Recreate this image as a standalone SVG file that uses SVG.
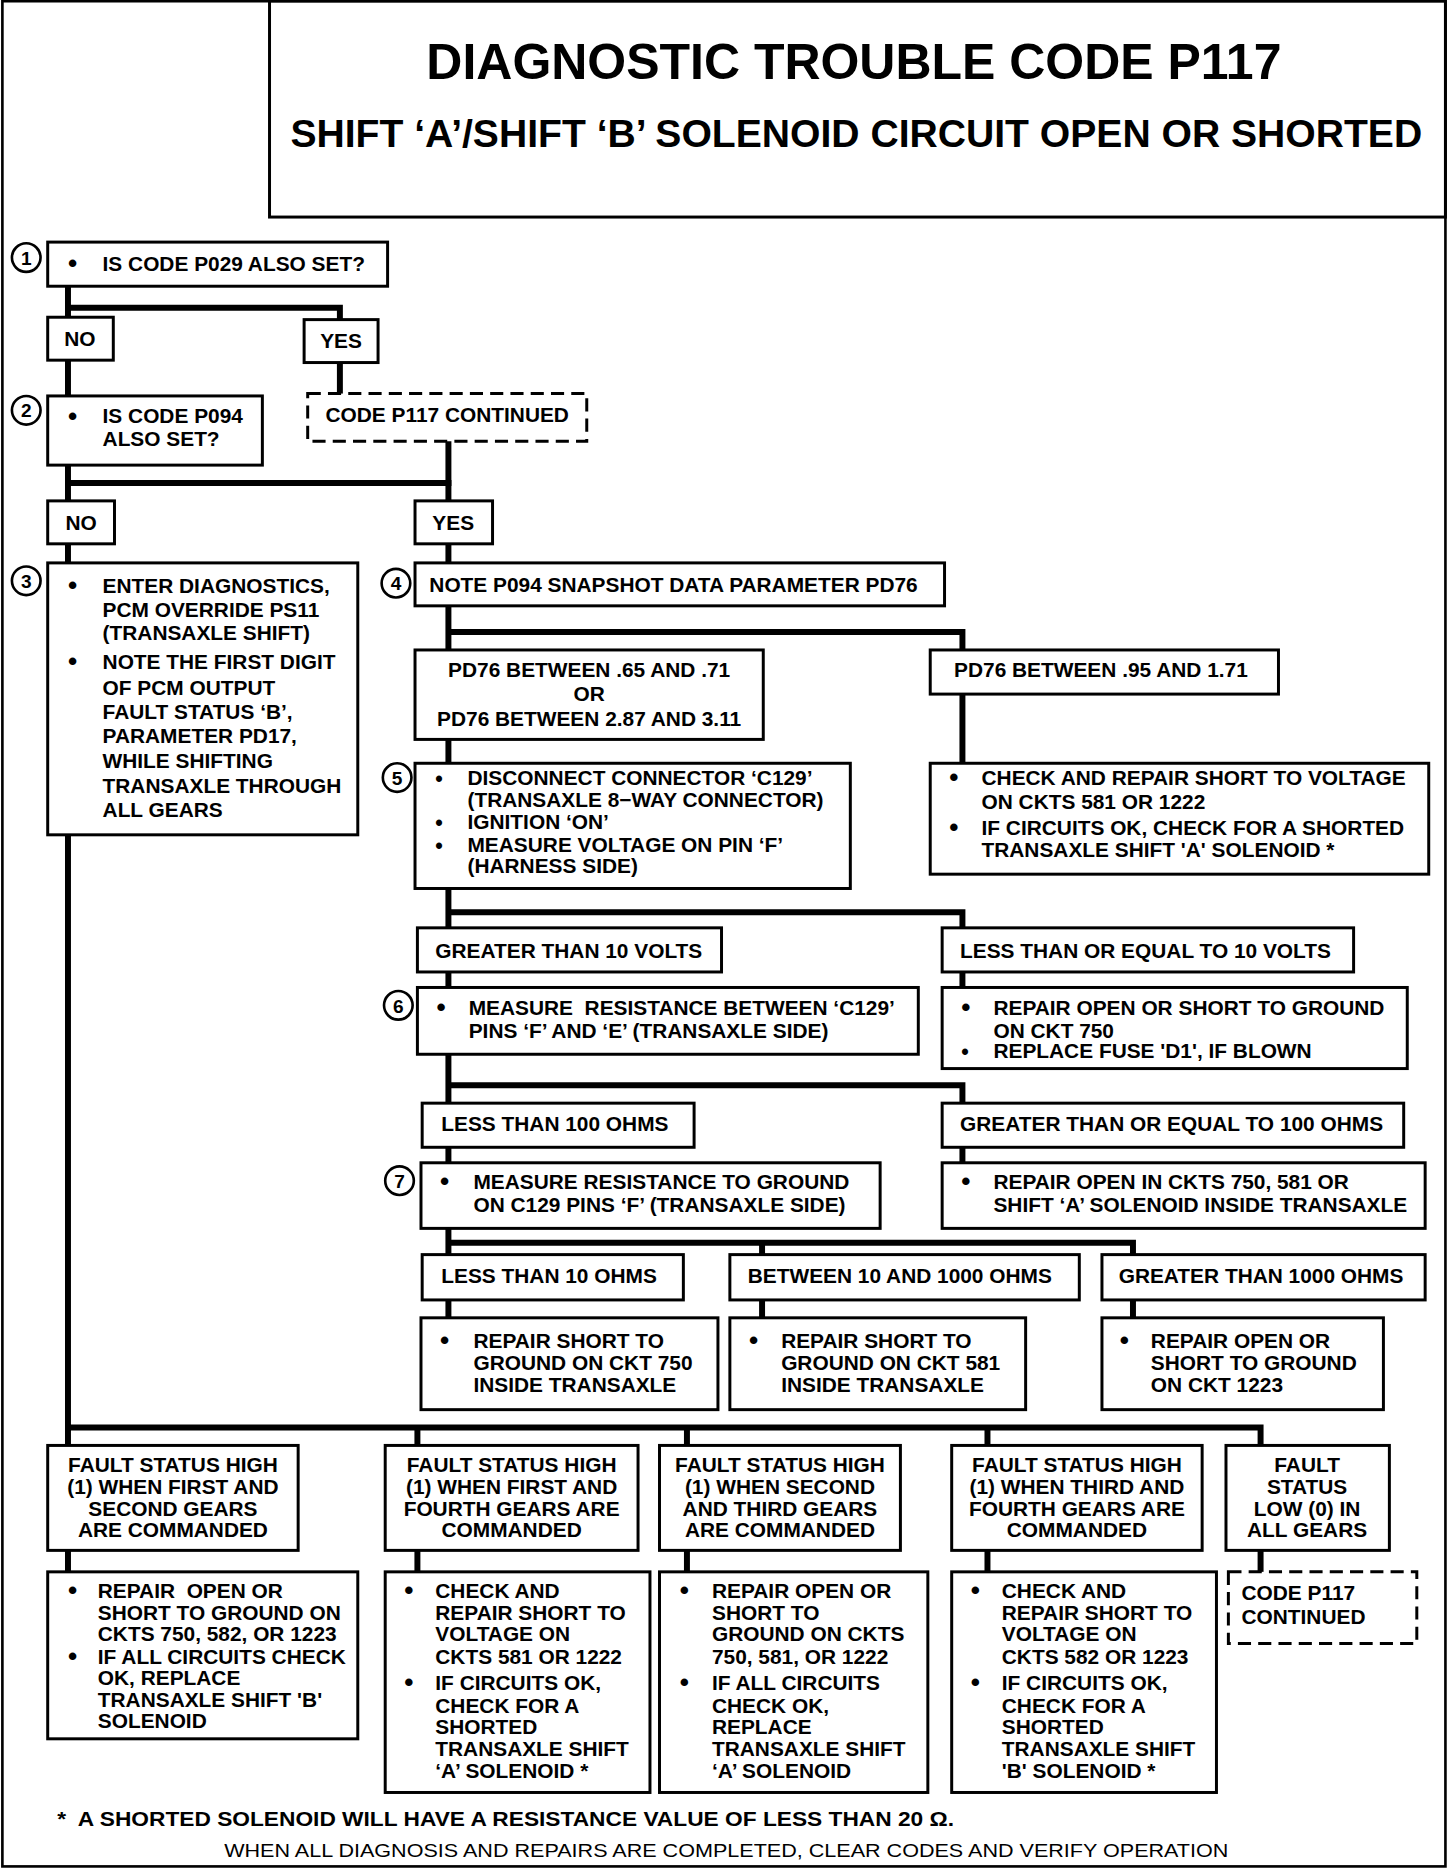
<svg xmlns="http://www.w3.org/2000/svg" width="1456" height="1870" viewBox="0 0 1456 1870">
<style>
.b{fill:#fff;stroke:#000;stroke-width:2.5}
.d{fill:#fff;stroke:#000;stroke-width:2.5;stroke-dasharray:11 6}
.c{fill:none;stroke:#000;stroke-width:5;stroke-linejoin:miter;stroke-linecap:square}
.n{fill:#fff;stroke:#000;stroke-width:2.2}
text{font-family:"Liberation Sans",Arial,Helvetica,sans-serif;font-weight:bold;font-size:17.5px;fill:#000}
.m{text-anchor:middle}
.bl{font-size:22px}
.bs{font-size:18px}
.nt{font-size:16px;text-anchor:middle}
.t1{font-size:41.5px}
.t2{font-size:32.5px}
.f1{font-size:17px}
.f2{font-size:16px;font-weight:normal}
</style>
<rect width="1456" height="1870" fill="#fff"/>
<g transform="scale(1.1926)">
<rect x="2" y="1" width="1210" height="1564" fill="none" stroke="#000" stroke-width="2.2"/>
<g id="title">
<rect x="226" y="1" width="986" height="181" class="b"/>
<text x="716" y="66" class="t1 m" textLength="717" lengthAdjust="spacingAndGlyphs">DIAGNOSTIC TROUBLE CODE P117</text>
<text x="718" y="123" class="t2 m" textLength="949" lengthAdjust="spacingAndGlyphs">SHIFT ‘A’/SHIFT ‘B’ SOLENOID CIRCUIT OPEN OR SHORTED</text>
</g>
<g id="connectors">
<path class="c" d="M57 240 V266 M57 258 H285 V268"/>
<path class="c" d="M57 302 V332"/>
<path class="c" d="M285 304 V330"/>
<path class="c" d="M57 390 V420 M57 405 H376"/>
<path class="c" d="M376 370 V420"/>
<path class="c" d="M57 456 V472"/>
<path class="c" d="M376 456 V472"/>
<path class="c" d="M57 700 V1212 M57 1197 H1057 V1212 M350 1197 V1212 M576 1197 V1212 M828 1197 V1212"/>
<path class="c" d="M376 508 V545 M376 530 H807 V545"/>
<path class="c" d="M376 620 V640"/>
<path class="c" d="M807 582 V640"/>
<path class="c" d="M376 745 V778 M376 765 H807 V778"/>
<path class="c" d="M376 815 V828 M807 815 V828"/>
<path class="c" d="M376 884 V925 M376 910 H807 V925"/>
<path class="c" d="M376 962 V975 M807 962 V975"/>
<path class="c" d="M376 1030 V1052 M376 1042 H950 V1052 M639 1042 V1052"/>
<path class="c" d="M376 1090 V1105 M639 1090 V1105 M950 1090 V1105"/>
<path class="c" d="M57 1300 V1318 M350 1300 V1318 M576 1300 V1318 M828 1300 V1318 M1057 1300 V1318"/>
</g>
<g id="step1">
<circle cx="22" cy="216" r="12" class="n"/><text x="22" y="222" class="nt">1</text>
<rect x="40" y="203" width="285" height="37" class="b"/>
<text x="57" y="228" class="bl">•</text><text x="86" y="227">IS CODE P029 ALSO SET?</text>
</g>
<g id="no1"><rect x="40" y="266" width="55" height="36" class="b"/><text x="67" y="290" class="m">NO</text></g>
<g id="yes1"><rect x="255" y="268" width="62" height="36" class="b"/><text x="286" y="292" class="m">YES</text></g>
<g id="step2">
<circle cx="22" cy="344" r="12" class="n"/><text x="22" y="350" class="nt">2</text>
<rect x="40" y="332" width="180" height="58" class="b"/>
<text x="57" y="356" class="bl">•</text><text x="86" y="355">IS CODE P094</text><text x="86" y="374">ALSO SET?</text>
</g>
<g id="cont1"><rect x="258" y="330" width="234" height="40" class="d"/><text x="375" y="354" class="m">CODE P117 CONTINUED</text></g>
<g id="no2"><rect x="40" y="420" width="56" height="36" class="b"/><text x="68" y="444" class="m">NO</text></g>
<g id="yes2"><rect x="348" y="420" width="65" height="36" class="b"/><text x="380" y="444" class="m">YES</text></g>
<g id="step3">
<circle cx="22" cy="487" r="12" class="n"/><text x="22" y="493" class="nt">3</text>
<rect x="40" y="472" width="260" height="228" class="b"/>
<text x="57" y="498" class="bl">•</text><text x="86" y="497">ENTER DIAGNOSTICS,</text>
<text x="86" y="517">PCM OVERRIDE PS11</text>
<text x="86" y="537">(TRANSAXLE SHIFT)</text>
<text x="57" y="562" class="bl">•</text><text x="86" y="561">NOTE THE FIRST DIGIT</text>
<text x="86" y="583">OF PCM OUTPUT</text>
<text x="86" y="603">FAULT STATUS ‘B’,</text>
<text x="86" y="623">PARAMETER PD17,</text>
<text x="86" y="644">WHILE SHIFTING</text>
<text x="86" y="665">TRANSAXLE THROUGH</text>
<text x="86" y="685">ALL GEARS</text>
</g>
<g id="step4">
<circle cx="332" cy="489" r="12" class="n"/><text x="332" y="495" class="nt">4</text>
<rect x="348" y="472" width="444" height="36" class="b"/>
<text x="360" y="496">NOTE P094 SNAPSHOT DATA PARAMETER PD76</text>
</g>
<g id="pd76a">
<rect x="348" y="545" width="292" height="75" class="b"/>
<text x="494" y="568" class="m">PD76 BETWEEN .65 AND .71</text>
<text x="494" y="588" class="m">OR</text>
<text x="494" y="609" class="m">PD76 BETWEEN 2.87 AND 3.11</text>
</g>
<g id="pd76b">
<rect x="780" y="545" width="292" height="37" class="b"/>
<text x="800" y="568">PD76 BETWEEN .95 AND 1.71</text>
</g>
<g id="step5">
<circle cx="333" cy="652" r="12" class="n"/><text x="333" y="658" class="nt">5</text>
<rect x="348" y="640" width="365" height="105" class="b"/>
<text x="365" y="659" class="bs">•</text><text x="392" y="658">DISCONNECT CONNECTOR ‘C129’</text>
<text x="392" y="677">(TRANSAXLE 8−WAY CONNECTOR)</text>
<text x="365" y="696" class="bs">•</text><text x="392" y="695">IGNITION ‘ON’</text>
<text x="365" y="715" class="bs">•</text><text x="392" y="714">MEASURE VOLTAGE ON PIN ‘F’</text>
<text x="392" y="732">(HARNESS SIDE)</text>
</g>
<g id="checkshort">
<rect x="780" y="640" width="418" height="93" class="b"/>
<text x="796" y="659" class="bl">•</text><text x="823" y="658">CHECK AND REPAIR SHORT TO VOLTAGE</text>
<text x="823" y="678">ON CKTS 581 OR 1222</text>
<text x="796" y="701" class="bl">•</text><text x="823" y="700">IF CIRCUITS OK, CHECK FOR A SHORTED</text>
<text x="823" y="719">TRANSAXLE SHIFT 'A' SOLENOID *</text>
</g>
<g id="gt10v"><rect x="350" y="778" width="255" height="37" class="b"/><text x="365" y="803">GREATER THAN 10 VOLTS</text></g>
<g id="le10v"><rect x="790" y="778" width="345" height="37" class="b"/><text x="805" y="803">LESS THAN OR EQUAL TO 10 VOLTS</text></g>
<g id="step6">
<circle cx="334" cy="843" r="12" class="n"/><text x="334" y="849" class="nt">6</text>
<rect x="350" y="828" width="420" height="56" class="b"/>
<text x="366" y="852" class="bl">•</text><text x="393" y="851">MEASURE&#160; RESISTANCE BETWEEN ‘C129’</text>
<text x="393" y="870">PINS ‘F’ AND ‘E’ (TRANSAXLE SIDE)</text>
</g>
<g id="repair750">
<rect x="790" y="828" width="390" height="68" class="b"/>
<text x="806" y="852" class="bl">•</text><text x="833" y="851">REPAIR OPEN OR SHORT TO GROUND</text>
<text x="833" y="870">ON CKT 750</text>
<text x="806" y="888" class="bs">•</text><text x="833" y="887">REPLACE FUSE 'D1', IF BLOWN</text>
</g>
<g id="lt100"><rect x="354" y="925" width="228" height="37" class="b"/><text x="370" y="948">LESS THAN 100 OHMS</text></g>
<g id="ge100"><rect x="790" y="925" width="387" height="37" class="b"/><text x="805" y="948">GREATER THAN OR EQUAL TO 100 OHMS</text></g>
<g id="step7">
<circle cx="335" cy="990" r="12" class="n"/><text x="335" y="996" class="nt">7</text>
<rect x="353" y="975" width="385" height="55" class="b"/>
<text x="369" y="998" class="bl">•</text><text x="397" y="997">MEASURE RESISTANCE TO GROUND</text>
<text x="397" y="1016">ON C129 PINS ‘F’ (TRANSAXLE SIDE)</text>
</g>
<g id="repairopenin">
<rect x="790" y="975" width="405" height="55" class="b"/>
<text x="806" y="998" class="bl">•</text><text x="833" y="997">REPAIR OPEN IN CKTS 750, 581 OR</text>
<text x="833" y="1016">SHIFT ‘A’ SOLENOID INSIDE TRANSAXLE</text>
</g>
<g id="lt10"><rect x="354" y="1052" width="219" height="38" class="b"/><text x="370" y="1076">LESS THAN 10 OHMS</text></g>
<g id="btw"><rect x="612" y="1052" width="293" height="38" class="b"/><text x="627" y="1076">BETWEEN 10 AND 1000 OHMS</text></g>
<g id="gt1000"><rect x="924" y="1052" width="271" height="38" class="b"/><text x="938" y="1076">GREATER THAN 1000 OHMS</text></g>
<g id="r750">
<rect x="353" y="1105" width="249" height="77" class="b"/>
<text x="369" y="1131" class="bl">•</text><text x="397" y="1130">REPAIR SHORT TO</text>
<text x="397" y="1149">GROUND ON CKT 750</text>
<text x="397" y="1167">INSIDE TRANSAXLE</text>
</g>
<g id="r581">
<rect x="612" y="1105" width="248" height="77" class="b"/>
<text x="628" y="1131" class="bl">•</text><text x="655" y="1130">REPAIR SHORT TO</text>
<text x="655" y="1149">GROUND ON CKT 581</text>
<text x="655" y="1167">INSIDE TRANSAXLE</text>
</g>
<g id="r1223">
<rect x="924" y="1105" width="236" height="77" class="b"/>
<text x="939" y="1131" class="bl">•</text><text x="965" y="1130">REPAIR OPEN OR</text>
<text x="965" y="1149">SHORT TO GROUND</text>
<text x="965" y="1167">ON CKT 1223</text>
</g>
<g id="f1">
<rect x="40" y="1212" width="210" height="88" class="b"/>
<text x="145" y="1234" class="m">FAULT STATUS HIGH</text>
<text x="145" y="1253" class="m">(1) WHEN FIRST AND</text>
<text x="145" y="1271" class="m">SECOND GEARS</text>
<text x="145" y="1289" class="m">ARE COMMANDED</text>
</g>
<g id="f2">
<rect x="323" y="1212" width="212" height="88" class="b"/>
<text x="429" y="1234" class="m">FAULT STATUS HIGH</text>
<text x="429" y="1253" class="m">(1) WHEN FIRST AND</text>
<text x="429" y="1271" class="m">FOURTH GEARS ARE</text>
<text x="429" y="1289" class="m">COMMANDED</text>
</g>
<g id="f3">
<rect x="553" y="1212" width="202" height="88" class="b"/>
<text x="654" y="1234" class="m">FAULT STATUS HIGH</text>
<text x="654" y="1253" class="m">(1) WHEN SECOND</text>
<text x="654" y="1271" class="m">AND THIRD GEARS</text>
<text x="654" y="1289" class="m">ARE COMMANDED</text>
</g>
<g id="f4">
<rect x="798" y="1212" width="210" height="88" class="b"/>
<text x="903" y="1234" class="m">FAULT STATUS HIGH</text>
<text x="903" y="1253" class="m">(1) WHEN THIRD AND</text>
<text x="903" y="1271" class="m">FOURTH GEARS ARE</text>
<text x="903" y="1289" class="m">COMMANDED</text>
</g>
<g id="f5">
<rect x="1028" y="1212" width="137" height="88" class="b"/>
<text x="1096" y="1234" class="m">FAULT</text>
<text x="1096" y="1253" class="m">STATUS</text>
<text x="1096" y="1271" class="m">LOW (0) IN</text>
<text x="1096" y="1289" class="m">ALL GEARS</text>
</g>
<g id="rep1">
<rect x="40" y="1318" width="260" height="140" class="b"/>
<text x="57" y="1341" class="bl">•</text><text x="82" y="1340">REPAIR&#160; OPEN OR</text>
<text x="82" y="1358">SHORT TO GROUND ON</text>
<text x="82" y="1376">CKTS 750, 582, OR 1223</text>
<text x="57" y="1396" class="bl">•</text><text x="82" y="1395">IF ALL CIRCUITS CHECK</text>
<text x="82" y="1413">OK, REPLACE</text>
<text x="82" y="1431">TRANSAXLE SHIFT 'B'</text>
<text x="82" y="1449">SOLENOID</text>
</g>
<g id="rep2">
<rect x="323" y="1318" width="222" height="185" class="b"/>
<text x="339" y="1341" class="bl">•</text><text x="365" y="1340">CHECK AND</text>
<text x="365" y="1358">REPAIR SHORT TO</text>
<text x="365" y="1376">VOLTAGE ON</text>
<text x="365" y="1395">CKTS 581 OR 1222</text>
<text x="339" y="1418" class="bl">•</text><text x="365" y="1417">IF CIRCUITS OK,</text>
<text x="365" y="1436">CHECK FOR A</text>
<text x="365" y="1454">SHORTED</text>
<text x="365" y="1472">TRANSAXLE SHIFT</text>
<text x="365" y="1491">‘A’ SOLENOID *</text>
</g>
<g id="rep3">
<rect x="553" y="1318" width="225" height="185" class="b"/>
<text x="570" y="1341" class="bl">•</text><text x="597" y="1340">REPAIR OPEN OR</text>
<text x="597" y="1358">SHORT TO</text>
<text x="597" y="1376">GROUND ON CKTS</text>
<text x="597" y="1395">750, 581, OR 1222</text>
<text x="570" y="1418" class="bl">•</text><text x="597" y="1417">IF ALL CIRCUITS</text>
<text x="597" y="1436">CHECK OK,</text>
<text x="597" y="1454">REPLACE</text>
<text x="597" y="1472">TRANSAXLE SHIFT</text>
<text x="597" y="1491">‘A’ SOLENOID</text>
</g>
<g id="rep4">
<rect x="798" y="1318" width="222" height="185" class="b"/>
<text x="814" y="1341" class="bl">•</text><text x="840" y="1340">CHECK AND</text>
<text x="840" y="1358">REPAIR SHORT TO</text>
<text x="840" y="1376">VOLTAGE ON</text>
<text x="840" y="1395">CKTS 582 OR 1223</text>
<text x="814" y="1418" class="bl">•</text><text x="840" y="1417">IF CIRCUITS OK,</text>
<text x="840" y="1436">CHECK FOR A</text>
<text x="840" y="1454">SHORTED</text>
<text x="840" y="1472">TRANSAXLE SHIFT</text>
<text x="840" y="1491">'B' SOLENOID *</text>
</g>
<g id="cont2">
<rect x="1030" y="1318" width="158" height="60" class="d"/>
<text x="1041" y="1342">CODE P117</text>
<text x="1041" y="1362">CONTINUED</text>
</g>
<g id="notes">
<text x="48" y="1531" class="f1" textLength="752" lengthAdjust="spacingAndGlyphs">*&#160; A SHORTED SOLENOID WILL HAVE A RESISTANCE VALUE OF LESS THAN 20 Ω.</text>
<text x="609" y="1557" class="f2 m" textLength="842" lengthAdjust="spacingAndGlyphs">WHEN ALL DIAGNOSIS AND REPAIRS ARE COMPLETED, CLEAR CODES AND VERIFY OPERATION</text>
</g>
</g>
</svg>
